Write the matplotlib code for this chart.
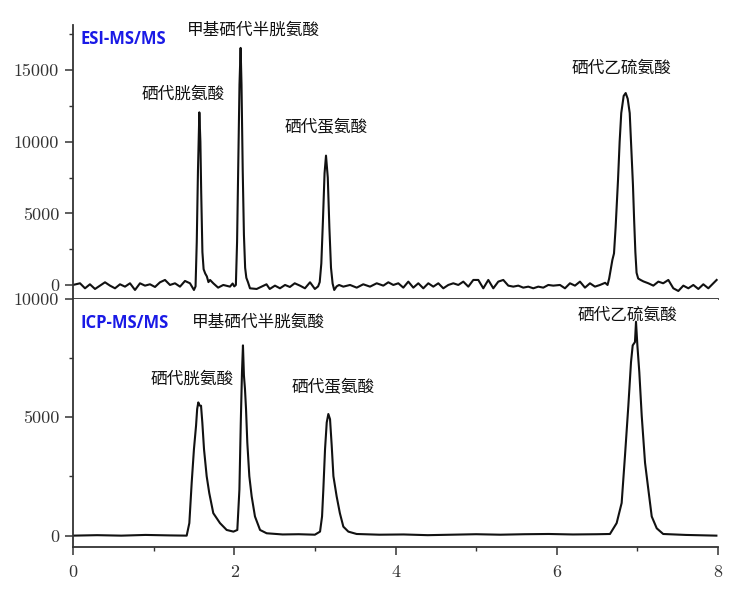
import matplotlib
matplotlib.use("Agg")
import matplotlib.pyplot as plt
from matplotlib.font_manager import FontProperties

# ---------------- data ----------------
esi_time = [0.00, 0.087, 0.149, 0.21, 0.273, 0.335, 0.397, 0.459, 0.521, 0.583,
            0.645, 0.707, 0.769, 0.831, 0.893, 0.955, 1.017, 1.079, 1.141, 1.203,
            1.265, 1.327, 1.389, 1.451, 1.50, 1.52, 1.535, 1.55, 1.567, 1.58,
            1.59, 1.605, 1.62, 1.64, 1.66, 1.68, 1.70, 1.74, 1.80, 1.864,
            1.947, 1.98, 2.00, 2.02, 2.035, 2.05, 2.065, 2.079, 2.09, 2.105,
            2.12, 2.135, 2.15, 2.17, 2.195, 2.278, 2.34, 2.40, 2.44, 2.505,
            2.567, 2.63, 2.69, 2.75, 2.815, 2.877, 2.94, 3.00, 3.04, 3.06,
            3.08, 3.10, 3.12, 3.138, 3.16, 3.18, 3.20, 3.22, 3.24, 3.27,
            3.30, 3.353, 3.436, 3.519, 3.60, 3.684, 3.767, 3.849, 3.911, 3.973,
            4.035, 4.097, 4.159, 4.221, 4.283, 4.345, 4.407, 4.469, 4.531, 4.593,
            4.655, 4.717, 4.779, 4.841, 4.903, 4.965, 5.027, 5.089, 5.151, 5.213,
            5.275, 5.337, 5.399, 5.461, 5.523, 5.585, 5.647, 5.709, 5.771, 5.833,
            5.895, 5.957, 6.04, 6.102, 6.164, 6.226, 6.288, 6.35, 6.412, 6.474,
            6.536, 6.60, 6.63, 6.65, 6.67, 6.69, 6.71, 6.73, 6.76, 6.78,
            6.80, 6.83, 6.855, 6.88, 6.905, 6.925, 6.945, 6.96, 6.975, 6.99,
            7.01, 7.04, 7.074, 7.136, 7.198, 7.26, 7.32, 7.384, 7.446, 7.508,
            7.57, 7.632, 7.694, 7.756, 7.818, 7.88, 7.942, 7.983]
esi_signal = [0, 117, -233, 47, -280, -47, 187, -47, -233, 47,
              -117, 117, -350, 117, -47, 47, -140, 187, 350, 0,
              117, -117, 280, 117, -350, -100, 3000, 8000, 12050, 10000,
              6500, 2300, 1100, 800, 600, 200, 350, 117, -187, 0,
              -117, 100, -100, 0, 3000, 8500, 14000, 16550, 14000, 8000,
              3500, 1200, 500, 200, -233, -280, -117, 47, -280, -47,
              -233, 0, -140, 117, -47, -233, 187, -280, -100, 200,
              1500, 4500, 7800, 9030, 7500, 4000, 1200, 100, -350, -100,
              0, -117, 0, -187, 47, -117, 117, -47, 187, 0,
              117, -187, 233, -187, 117, -233, 117, -117, 117, -233,
              0, 117, 0, 233, -117, 350, 350, -233, 350, -233,
              233, 350, -47, -117, -47, -187, -117, -233, -117, -187,
              0, -47, 0, -233, 117, -47, 233, -187, 117, -117,
              0, 150, 0, 450, 1100, 1750, 2200, 4000, 7350, 10000,
              12000, 13200, 13400, 13000, 12000, 9500, 7000, 4500, 2300, 850,
              450, 350, 250, 117, -47, 233, 117, 350, -233, -420,
              -47, -233, 0, -280, 47, -233, 117, 350]

icp_time = [0.00, 0.3, 0.6, 0.9, 1.2, 1.41, 1.443, 1.472, 1.50, 1.526,
            1.54, 1.554, 1.57, 1.588, 1.604, 1.625, 1.658, 1.69, 1.74, 1.823,
            1.906, 1.99, 2.038, 2.064, 2.081, 2.096, 2.108, 2.12, 2.133, 2.146,
            2.162, 2.187, 2.216, 2.257, 2.32, 2.402, 2.6, 2.8, 3.0, 3.064,
            3.089, 3.105, 3.126, 3.147, 3.167, 3.188, 3.209, 3.23, 3.27, 3.31,
            3.353, 3.415, 3.518, 3.8, 4.1, 4.4, 4.7, 5.0, 5.3, 5.6,
            5.9, 6.2, 6.5, 6.66, 6.743, 6.805, 6.846, 6.888, 6.921, 6.942,
            6.97, 6.983, 7.0, 7.024, 7.054, 7.095, 7.136, 7.178, 7.24, 7.32,
            7.6, 7.98]
icp_signal = [0, 20, 0, 30, 10, 0, 530, 2230, 3650, 4640,
              5350, 5630, 5500, 5490, 4780, 3650, 2510, 1800, 950, 530,
              240, 170, 240, 1950, 4780, 6910, 8040, 6770, 6200, 5350,
              3930, 2510, 1660, 810, 240, 100, 50, 60, 40, 170,
              810, 1950, 3650, 4780, 5140, 4920, 3790, 2510, 1660, 950,
              380, 170, 70, 40, 50, 20, 40, 60, 40, 60,
              70, 50, 60, 70, 530, 1380, 3360, 5490, 7330, 8040,
              8180, 9040, 8040, 6910, 5060, 3080, 1950, 810, 310, 70,
              30, 0]

compound_names = ["硒代胱氨酸", "甲基硒代半胱氨酸", "硒代蛋氨酸", "硒代乙硫氨酸"]
esi_label_xy = [(1.37, 13350), (2.24, 17820), (3.145, 10970), (6.806, 15100)]
icp_label_xy = [(1.472, 6595), (2.298, 9040), (3.229, 6270), (6.871, 9320)]
panel_titles = ["ESI-MS/MS", "ICP-MS/MS"]

x_major = [0, 2, 4, 6, 8]
x_minor = [1, 3, 5, 7]
esi_y_major = [0, 5000, 10000, 15000]
esi_y_minor = [2500, 7500, 12500, 17500]
icp_y_major = [0, 5000, 10000]
icp_y_minor = [2500, 7500]

# ---------------- figure ----------------
W, H = 738, 590
fig = plt.figure(figsize=(W / 100, H / 100), dpi=100)

left, right = 73 / W, 718 / W
ax1 = fig.add_axes([left, 1 - 299 / H, right - left, (299 - 25) / H])
ax2 = fig.add_axes([left, 1 - 547 / H, right - left, (547 - 299) / H])

cjk = ["Noto Sans CJK SC", "DejaVu Sans"]
spine_c = "#333333"
tick_fp = FontProperties(family="cmr10", size=13)

for ax in (ax1, ax2):
    ax.set_xlim(0, 8)
    for s in ("top", "right"):
        ax.spines[s].set_visible(False)
    for s in ("left", "bottom"):
        ax.spines[s].set_color(spine_c)
        ax.spines[s].set_linewidth(1.3)
    ax.tick_params(which="major", direction="out", length=6, width=1.1, color=spine_c, pad=4)
    ax.tick_params(which="minor", direction="out", length=3, width=1.0, color=spine_c)

# top panel
ax1.plot(esi_time, esi_signal, color="#111111", lw=1.5)
ax1.set_ylim(-980, 18150)
ax1.set_yticks(esi_y_major, [str(v) for v in esi_y_major])
ax1.set_yticks(esi_y_minor, minor=True)
ax1.set_xticks(x_major)
ax1.tick_params(axis="x", which="both", bottom=False, labelbottom=False)
for lab in ax1.get_yticklabels():
    lab.set_fontproperties(tick_fp)
    lab.set_color("#333333")

# bottom panel
ax2.plot(icp_time, icp_signal, color="#111111", lw=1.5)
ax2.set_ylim(-480, 10000)
ax2.set_yticks(icp_y_major, [str(v) for v in icp_y_major])
ax2.set_yticks(icp_y_minor, minor=True)
ax2.set_xticks(x_major, [str(v) for v in x_major])
ax2.set_xticks(x_minor, minor=True)
ax2.tick_params(axis="x", which="major", pad=7)
for lab in ax2.get_yticklabels() + ax2.get_xticklabels():
    lab.set_fontproperties(tick_fp)
    lab.set_color("#333333")

# labels
for name, (x, y) in zip(compound_names, esi_label_xy):
    ax1.text(x, y, name, ha="center", va="center", fontsize=12, family=cjk, color="#111111")
for name, (x, y) in zip(compound_names, icp_label_xy):
    ax2.text(x, y, name, ha="center", va="center", fontsize=12, family=cjk, color="#111111")

title_fp = FontProperties(family="Open Sans", weight="bold", size=12)
ax1.text(0.087, 17200, panel_titles[0], ha="left", va="center",
         fontproperties=title_fp, color="#1a1ae6")
ax2.text(0.087, 8965, panel_titles[1], ha="left", va="center",
         fontproperties=title_fp, color="#1a1ae6")

fig.savefig("out.png", dpi=100)
